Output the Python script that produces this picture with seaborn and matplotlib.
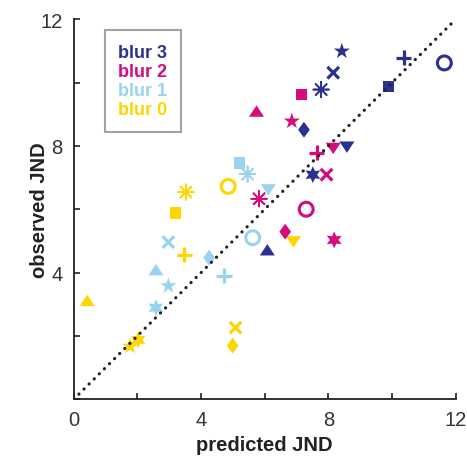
import matplotlib
matplotlib.use("Agg")
import matplotlib.pyplot as plt
from matplotlib.lines import Line2D
import seaborn as sns
import pandas as pd

# Groups and their colours
blur_labels = ["blur 3", "blur 2", "blur 1", "blur 0"]
blur_colors = ["#2B3190", "#D40C7C", "#9AD3EF", "#FFD500"]

# One point per marker shape in every group, same order in all arrays
shapes = ["star", "cross", "asterisk", "plus", "circle",
          "square", "tri_down", "diamond", "hexagram", "tri_up"]

blur3_x = [8.42, 8.15, 7.77, 10.36, 11.64, 9.88, 8.58, 7.23, 7.51, 6.08]
blur3_y = [10.99, 10.31, 9.78, 10.78, 10.62, 9.88, 8.02, 8.51, 7.09, 4.66]

blur2_x = [6.85, 7.94, 5.82, 7.63, 7.30, 7.16, 8.15, 6.64, 8.18, 5.74]
blur2_y = [8.78, 7.09, 6.33, 7.79, 6.00, 9.62, 7.98, 5.29, 5.03, 9.04]

blur1_x = [2.97, 2.97, 5.46, 4.72, 5.62, 5.20, 6.11, 4.25, 2.58, 2.58]
blur1_y = [3.58, 4.96, 7.11, 3.90, 5.10, 7.46, 6.67, 4.47, 2.89, 4.03]

blur0_x = [1.77, 5.08, 3.52, 3.47, 4.85, 3.20, 6.90, 4.99, 2.02, 0.42]
blur0_y = [1.67, 2.26, 6.54, 4.56, 6.72, 5.88, 5.03, 1.69, 1.87, 3.06]

# Identity line and axis ticks
diag_x = [0, 12]
diag_y = [0, 12]
ticks = [0, 2, 4, 6, 8, 10, 12]
x_tick_labels = ["0", "", "4", "", "8", "", "12"]
y_tick_labels = ["", "", "4", "", "8", "", "12"]

# Build a long table for seaborn (blur 0 first so blur 3 ends on top)
rows = []
for label, xs, ys in [("blur 0", blur0_x, blur0_y), ("blur 1", blur1_x, blur1_y),
                      ("blur 2", blur2_x, blur2_y), ("blur 3", blur3_x, blur3_y)]:
    for shape, x, y in zip(shapes, xs, ys):
        rows.append({"predicted": x, "observed": y, "blur": label, "shape": shape})
df = pd.DataFrame(rows)

# Marker styles per shape
tri_up = [(0, 1.013), (-1, -0.507), (1, -0.507)]
tri_down = [(0, -1.013), (-1, 0.507), (1, 0.507)]
diamond = [(0, 1), (0.74, 0), (0, -1), (-0.74, 0)]
marker_kws = {
    "star": dict(marker="*", s=150, edgecolor="none"),
    "cross": dict(marker="x", s=70, linewidth=2.3),
    "asterisk": dict(marker=(8, 2, 0), s=125, linewidth=1.2),
    "plus": dict(marker="+", s=120, linewidth=2.3),
    "circle": dict(marker="o", s=100, linewidth=2.2),
    "square": dict(marker="s", s=68, edgecolor="none"),
    "tri_down": dict(marker=tri_down, s=120, edgecolor="none"),
    "diamond": dict(marker=diamond, s=130, edgecolor="none"),
    "hexagram": dict(marker=(6, 1, 0), s=150, edgecolor="none"),
    "tri_up": dict(marker=tri_up, s=120, edgecolor="none"),
}

sns.set_style("ticks")
plt.rcParams["font.family"] = ["Liberation Sans", "DejaVu Sans"]

fig = plt.figure(figsize=(4.67, 4.6), dpi=100)
ax = fig.add_axes([0.158, 0.130, 0.818, 0.826])

palette = dict(zip(blur_labels, blur_colors))
for shape in shapes:
    sub = df[df["shape"] == shape]
    sns.scatterplot(data=sub, x="predicted", y="observed", hue="blur",
                    palette=palette, legend=False, ax=ax, **marker_kws[shape])
    if shape == "circle":
        coll = ax.collections[-1]
        fcs = coll.get_facecolors()
        coll.set_facecolors("none")
        coll.set_edgecolors(fcs)
        coll.set_linewidths(2.2)

sns.lineplot(x=diag_x, y=diag_y, ax=ax, color="#222222", linewidth=2.3,
             linestyle=(0, (0.05, 2.2)), dash_capstyle="round")
for line in ax.lines:
    line.set_dash_capstyle("round")

ax.set_xlim(0, 12)
ax.set_ylim(0, 12)
ax.set_xticks(ticks)
ax.set_yticks(ticks)
ax.set_xticklabels(x_tick_labels)
ax.set_yticklabels(y_tick_labels)
ax.tick_params(direction="in", length=4, width=1.2, pad=8,
               labelsize=14.5, colors="#222222", labelcolor="#333333")
ax.set_xlabel("predicted JND", fontsize=14.5, fontweight="bold",
              color="#222222", labelpad=4)
ax.set_ylabel("observed JND", fontsize=14.5, fontweight="bold",
              color="#222222", labelpad=-6)
sns.despine(ax=ax)
for side in ["left", "bottom"]:
    ax.spines[side].set_linewidth(1.3)
    ax.spines[side].set_color("#222222")

# Text-only legend in coloured bold type
handles = [Line2D([], [], linestyle="none") for _ in blur_labels]
leg = ax.legend(handles, blur_labels, loc="upper left",
                bbox_to_anchor=(0.081, 0.971), borderaxespad=0,
                handlelength=0, handletextpad=0, fancybox=False,
                frameon=True, edgecolor="#8C8C8C", borderpad=0.75,
                labelspacing=0.12, prop={"weight": "bold", "size": 13})
leg.get_frame().set_linewidth(1.5)
for text, color in zip(leg.get_texts(), blur_colors):
    text.set_color(color)

fig.savefig("out.png", dpi=100)
